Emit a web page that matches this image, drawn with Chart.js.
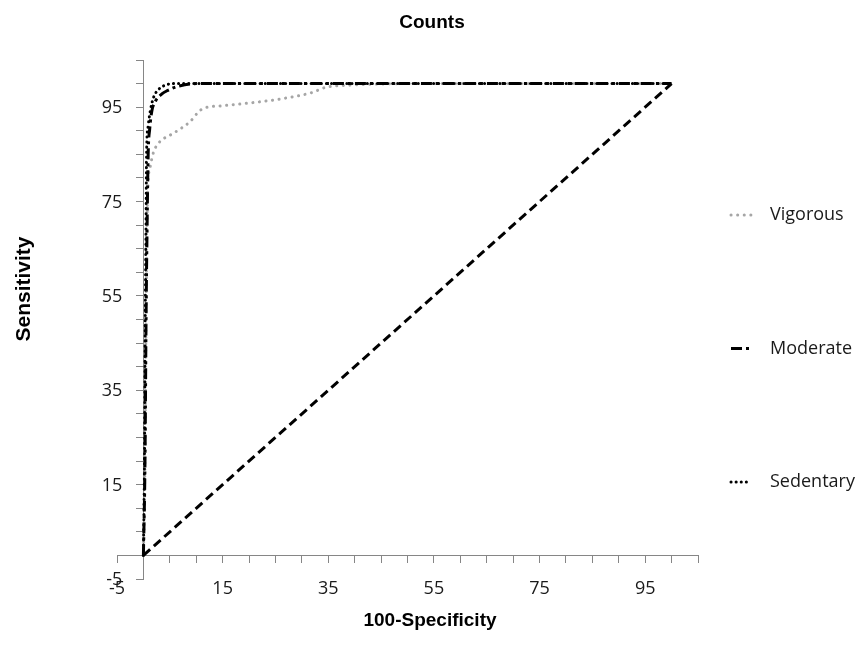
<!DOCTYPE html>
<html>
<head>
<meta charset="utf-8">
<title>Counts</title>
<script src="https://cdn.jsdelivr.net/npm/chart.js@4.4.1/dist/chart.umd.min.js"></script>
<style>
  html, body { margin: 0; padding: 0; background: #fff; }
</style>
</head>
<body>
<canvas id="rocChart" width="863" height="659"></canvas>
<script>
// ROC curves (Counts)
const vigorousX = [0, 0.3, 0.5, 0.7, 1.0, 1.3, 1.9, 3.2, 4.8, 6.7, 8.9, 10.6, 11.8, 15, 19.4, 25.7, 31.9, 34.5, 39.5, 44.5, 50, 100];
const vigorousY = [0, 20, 50, 72, 80.7, 82.5, 85.4, 87.8, 88.9, 90.2, 92, 94.2, 94.9, 95.3, 95.8, 96.7, 98.1, 99.2, 99.7, 99.9, 100, 100];

const moderateX = [0, 0.3, 0.5, 0.7, 0.9, 1.2, 1.6, 2.3, 3.5, 4.5, 6.8, 10, 100];
const moderateY = [0, 20, 50, 70, 85, 90.5, 94.2, 96.3, 97.8, 98.5, 99.5, 100, 100];

const sedentaryX = [0, 0.2, 0.35, 0.5, 0.6, 0.9, 1.3, 1.9, 2.9, 4.2, 6, 100];
const sedentaryY = [0, 20, 50, 70, 85, 91, 94.2, 97, 98.8, 99.7, 100, 100];

// chance line
const refX = [0, 100];
const refY = [0, 100];

const xTickLabels = [-5, 15, 35, 55, 75, 95];
const yTickLabels = [-5, 15, 35, 55, 75, 95];

function toPoints(xs, ys) {
  return xs.map((x, i) => ({ x: x, y: ys[i] }));
}

const tickFont = { family: "'Open Sans', sans-serif", size: 18 };
const axisGrey = "#868686";

// titles, y tick labels and legend drawn by hand so they sit where the original has them
const decorPlugin = {
  id: "decor",
  afterDraw(chart) {
    const c = chart.ctx;
    const xs = chart.scales.x, ys = chart.scales.y;

    // y labels: left of the crossing axis (Chart.js puts them flush against it)
    const axisX = xs.getPixelForValue(0);
    c.save();
    c.fillStyle = "#1a1a1a";
    c.font = "18px 'Open Sans', sans-serif";
    c.textAlign = "right";
    c.textBaseline = "middle";
    yTickLabels.forEach(v => c.fillText(String(v), axisX - 21, ys.getPixelForValue(v) + 1));
    c.restore();

    c.save();
    c.fillStyle = "#000";
    c.font = "bold 19px 'Liberation Sans', Arial, sans-serif";
    c.textAlign = "center";
    c.textBaseline = "middle";
    c.fillText("Counts", 432, 23);
    c.fillText("100-Specificity", 430, 621);
    c.font = "bold 21px 'Liberation Sans', Arial, sans-serif";
    c.translate(24, 289);
    c.rotate(-Math.PI / 2);
    c.fillText("Sensitivity", 0, 0);
    c.restore();

    // legend
    const items = chart.data.datasets.filter(d => d.label);
    c.save();
    items.forEach((ds, i) => {
      const y = 215 + i * 133.5;
      c.strokeStyle = ds.borderColor;
      c.lineWidth = ds.borderWidth;
      c.lineCap = ds.borderCapStyle || "butt";
      c.setLineDash(ds.borderDash || []);
      c.beginPath();
      c.moveTo(731, y);
      c.lineTo(751, y);
      c.stroke();
      c.setLineDash([]);
      c.fillStyle = "#1a1a1a";
      c.font = "18px 'Open Sans', sans-serif";
      c.textAlign = "left";
      c.textBaseline = "middle";
      c.fillText(ds.label, 770, y);
    });
    c.restore();
  }
};

new Chart(document.getElementById("rocChart"), {
  type: "scatter",
  data: {
    datasets: [
      {
        label: "Vigorous",
        data: toPoints(vigorousX, vigorousY),
        borderColor: "#a6a6a6",
        borderWidth: 3,
        borderCapStyle: "round",
        borderDash: [0.1, 6.5],
        order: 4
      },
      {
        label: "Moderate",
        data: toPoints(moderateX, moderateY),
        borderColor: "#000",
        borderWidth: 3,
        borderDash: [11, 4, 3, 4],
        order: 1
      },
      {
        label: "Sedentary",
        data: toPoints(sedentaryX, sedentaryY),
        borderColor: "#000",
        borderWidth: 3,
        borderCapStyle: "round",
        borderDash: [0.1, 5],
        order: 3
      },
      {
        label: "",
        data: toPoints(refX, refY),
        borderColor: "#000",
        borderWidth: 3,
        borderDash: [9, 5],
        cubicInterpolationMode: "default",
        tension: 0,
        order: 2
      }
    ]
  },
  options: {
    responsive: false,
    animation: false,
    showLine: true,
    elements: {
      point: { radius: 0, hoverRadius: 0 },
      line: { cubicInterpolationMode: "monotone", fill: false }
    },
    layout: { padding: { left: 117, right: 165, top: 60, bottom: 80 } },
    plugins: {
      legend: { display: false },
      title: { display: false },
      tooltip: { enabled: false }
    },
    scales: {
      x: {
        type: "linear",
        position: { y: 0 },
        min: -5,
        max: 105,
        border: { display: true, color: axisGrey, width: 1 },
        grid: { display: true, drawOnChartArea: false, drawTicks: true, tickLength: 7, color: axisGrey },
        ticks: {
          stepSize: 5,
          autoSkip: false,
          maxRotation: 0,
          padding: 16,
          color: "#1a1a1a",
          font: tickFont,
          callback: v => xTickLabels.includes(v) ? String(v) : ""
        }
      },
      y: {
        type: "linear",
        position: { x: 0 },
        min: -5,
        max: 105,
        border: { display: true, color: axisGrey, width: 1 },
        grid: { display: true, drawOnChartArea: false, drawTicks: true, tickLength: 7, color: axisGrey },
        ticks: {
          stepSize: 5,
          autoSkip: false,
          font: tickFont,
          // labels are drawn by the decor plugin
          callback: () => ""
        }
      }
    }
  },
  plugins: [decorPlugin]
});
</script>
</body>
</html>
